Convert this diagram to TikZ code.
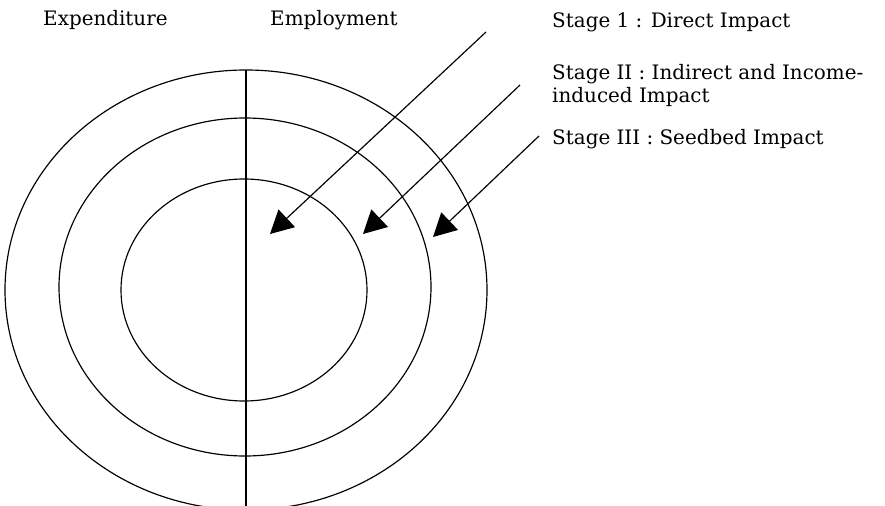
\documentclass[tikz,border=0pt]{standalone}
\usepackage{fontspec}
\setmainfont{DejaVu Serif}
\usetikzlibrary{arrows.meta}

\tikzset{
  txt/.style={font=\fontsize{17}{20}\selectfont, inner sep=0pt},
  ring/.style={line width=1pt},
  impact/.style={line width=1pt, -{Triangle[length=0.69cm, width=0.72cm]}}
}

\begin{document}
\begin{tikzpicture}[x=0.03cm, y=-0.03cm]
\useasboundingbox (0,0) rectangle (885,506);
\clip (0,0) rectangle (885,506);

\draw[ring] (246,290) ellipse [x radius=241, y radius=220];
\draw[ring] (245,287) ellipse [x radius=186, y radius=169];
\draw[ring] (244,290) ellipse [x radius=123, y radius=111];
\coordinate (top) at (246,70);
\coordinate (bottom) at (246,506);
\draw[ring] (top) -- (bottom);

\node[txt, anchor=base west] (expenditure) at (43,26) {Expenditure};
\node[txt, anchor=base west] (employment) at (270,26) {Employment};

\node[txt, anchor=base west] (stage1) at (552,28) {Stage 1 : Direct Impact};
\node[txt, anchor=base west] (stage2) at (552,80) {Stage II : Indirect and Income-};
\node[txt, anchor=base west] (stage2b) at (552,102) {induced Impact};
\node[txt, anchor=base west] (stage3) at (552,145) {Stage III : Seedbed Impact};

\coordinate (s1) at (486,32);
\coordinate (s2) at (520,85);
\coordinate (s3) at (539,136);
\coordinate (t1) at (270,234);
\coordinate (t2) at (363,234);
\coordinate (t3) at (433,237);
\draw[impact] (s1) -- (t1);
\draw[impact] (s2) -- (t2);
\draw[impact] (s3) -- (t3);
%\draw (0,0) grid (885,506);
\end{tikzpicture}
\end{document}
